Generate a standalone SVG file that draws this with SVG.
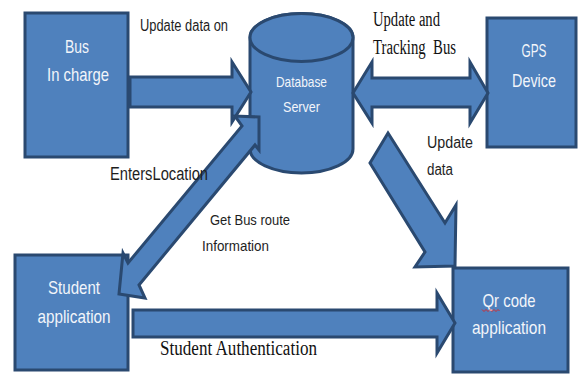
<svg xmlns="http://www.w3.org/2000/svg" width="578" height="375" viewBox="0 0 578 375">
<style>
.shape{fill:#4F81BD;stroke:#2A4970;stroke-width:3;stroke-linejoin:miter}
.box{font-family:"Liberation Sans",Arial,sans-serif;font-size:19px;fill:#F2F5FA;text-anchor:middle}
.db{font-family:"Liberation Sans",Arial,sans-serif;font-size:15px;fill:#F2F5FA;text-anchor:middle}
.lbl{font-family:"Liberation Sans",Arial,sans-serif;fill:#1E1E1E}
.ser{font-family:"Liberation Serif","Times New Roman",serif;fill:#111111}
</style>
<rect width="578" height="375" fill="#FFFFFF"/>
<g id="bus-in-charge">
<rect class="shape" x="25" y="13" width="103" height="144"/>
<text class="box" x="77" y="53" textLength="24" lengthAdjust="spacingAndGlyphs">Bus</text>
<text class="box" x="78" y="81" textLength="62" lengthAdjust="spacingAndGlyphs">In charge</text>
</g>
<g id="database-server">
<path class="shape" d="M250,37.5 L250,149 A51.5,24 0 0 0 353,149 L353,37.5 A51.5,24 0 0 0 250,37.5 Z"/>
<ellipse class="shape" cx="301.5" cy="37.5" rx="51.5" ry="24"/>
<text class="db" x="301.5" y="87" textLength="51" lengthAdjust="spacingAndGlyphs">Database</text>
<text class="db" x="301.5" y="112" textLength="37" lengthAdjust="spacingAndGlyphs">Server</text>
</g>
<g id="gps-device">
<rect class="shape" x="487" y="18" width="89" height="129"/>
<text class="box" x="534" y="57" textLength="25" lengthAdjust="spacingAndGlyphs">GPS</text>
<text class="box" x="534" y="87" textLength="44" lengthAdjust="spacingAndGlyphs">Device</text>
</g>
<g id="student-application">
<rect class="shape" x="15" y="255" width="113" height="115"/>
<text class="box" x="74" y="294" textLength="52" lengthAdjust="spacingAndGlyphs">Student</text>
<text class="box" x="74" y="323" textLength="73" lengthAdjust="spacingAndGlyphs">application</text>
</g>
<g id="qr-code-application">
<rect class="shape" x="453" y="268" width="115" height="104"/>
<text class="box" x="509" y="307" textLength="53" lengthAdjust="spacingAndGlyphs">Qr code</text>
<path d="M482,309.5 l2,2 2,-2 2,2 2,-2 2,2 2,-2 2,2 2,-2 1.5,1.5" fill="none" stroke="#E02020" stroke-width="0.9"/>
<text class="box" x="509" y="334" textLength="74" lengthAdjust="spacingAndGlyphs">application</text>
</g>
<g id="connectors">
<polygon class="shape" points="130,77 232,77 232,62 251,92 232,122 232,107 130,107"/>
<polygon class="shape" points="353,93 372,62 372,78 470,78 470,62 488,93 470,123 470,107 372,107 372,123"/>
<polygon class="shape" points="259,117 259,150 255,145 139,285 145,298 119,294 123,253 128,263 242,126 235,116"/>
<polygon class="shape" points="388,133 445,223 456,205 455,266 415,267 425,252 370,163"/>
<polygon class="shape" points="133,310 437,310 437,293 455,323 437,353 437,337 133,337"/>
</g>
<g id="labels">
<text class="lbl" x="140" y="31" font-size="16" textLength="88" lengthAdjust="spacingAndGlyphs">Update data on</text>
<text class="lbl" x="110" y="180" font-size="18" textLength="98" lengthAdjust="spacingAndGlyphs">EntersLocation</text>
<text class="lbl" x="210" y="225" font-size="15" textLength="80" lengthAdjust="spacingAndGlyphs">Get Bus route</text>
<text class="lbl" x="202" y="251" font-size="15" textLength="67" lengthAdjust="spacingAndGlyphs">Information</text>
<text class="lbl" x="427" y="148" font-size="16" textLength="46" lengthAdjust="spacingAndGlyphs">Update</text>
<text class="lbl" x="427" y="175" font-size="16" textLength="26" lengthAdjust="spacingAndGlyphs">data</text>
<text class="ser" x="373" y="26" font-size="20" textLength="67" lengthAdjust="spacingAndGlyphs">Update and</text>
<text class="ser" x="373" y="54" font-size="20" textLength="83" lengthAdjust="spacingAndGlyphs" xml:space="preserve">Tracking  Bus</text>
<text class="ser" x="160" y="355" font-size="20" textLength="157" lengthAdjust="spacingAndGlyphs">Student Authentication</text>
</g>
</svg>
